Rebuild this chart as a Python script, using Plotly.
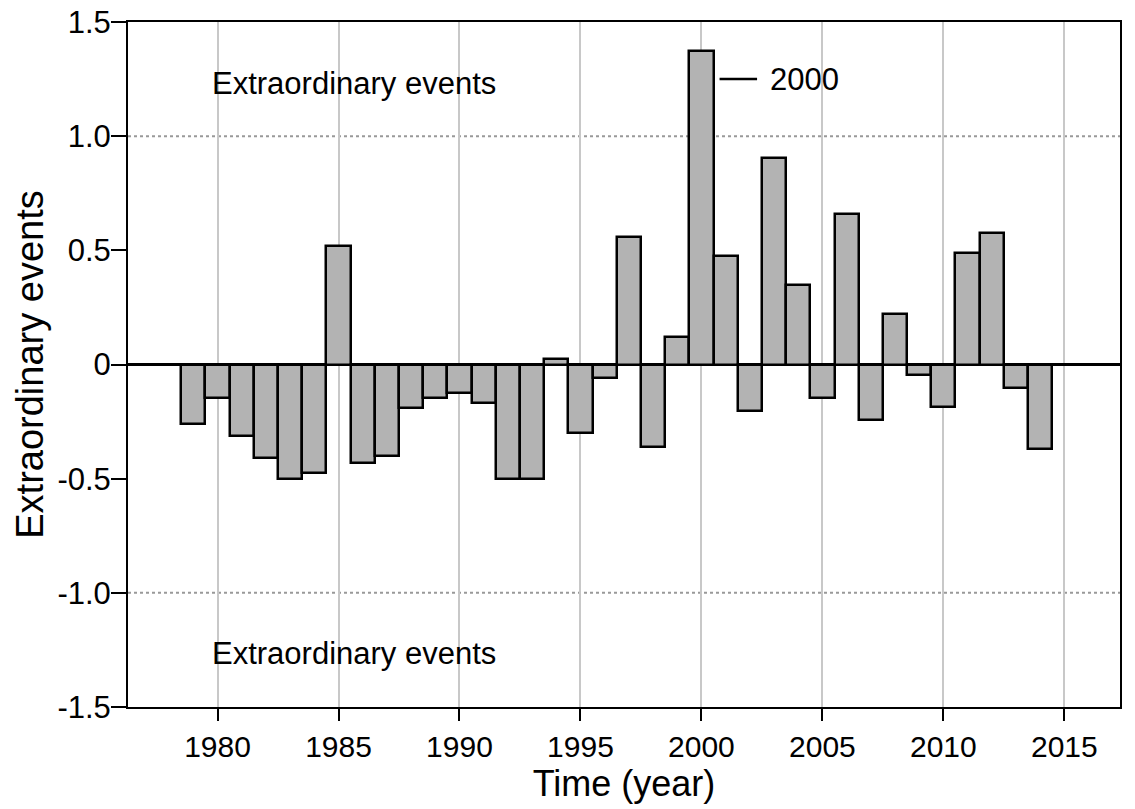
import plotly.graph_objects as go

years = list(range(1979, 2015))
values = [-0.26, -0.145, -0.315, -0.41, -0.50, -0.475, 0.52, -0.43, -0.40, -0.19,
          -0.145, -0.125, -0.17, -0.50, -0.50, 0.025, -0.30, -0.06, 0.56, -0.36,
          0.12, 1.375, 0.475, -0.205, 0.905, 0.35, -0.145, 0.66, -0.245, 0.22,
          -0.045, -0.185, 0.49, 0.575, -0.105, -0.37]

x_ticks = [1980, 1985, 1990, 1995, 2000, 2005, 2010, 2015]
y_tickvals = [1.5, 1.0, 0.5, 0, -0.5, -1.0, -1.5]
y_ticktext = ["1.5", "1.0", "0.5", "0", "-0.5", "-1.0", "-1.5"]
thresholds = [1.0, -1.0]
label_text = "Extraordinary events"
peak_year = 2000

FONT = "Liberation Sans, Arial, sans-serif"

fig = go.Figure()
fig.add_trace(go.Bar(
    x=years, y=values, width=1.0,
    marker=dict(color="#b3b3b3", line=dict(color="black", width=2.5)),
    showlegend=False,
))

for t in thresholds:
    fig.add_shape(type="line", xref="paper", yref="y", x0=0, x1=1, y0=t, y1=t,
                  line=dict(color="#999999", width=2, dash="dot"), layer="below")

label_y = 1.25
fig.add_shape(type="line", xref="x", yref="y", x0=peak_year + 0.75, x1=peak_year + 2.3,
              y0=label_y, y1=label_y, line=dict(color="black", width=2.5))
fig.add_annotation(x=peak_year + 2.75, y=label_y, text=str(peak_year), showarrow=False,
                   xanchor="left", yanchor="middle",
                   font=dict(family=FONT, size=31, color="black"))

fig.add_annotation(x=1979.7, y=1.232, text=label_text, showarrow=False,
                   xanchor="left", yanchor="middle",
                   font=dict(family=FONT, size=31, color="black"))
fig.add_annotation(x=1979.7, y=-1.265, text=label_text, showarrow=False,
                   xanchor="left", yanchor="middle",
                   font=dict(family=FONT, size=31, color="black"))

fig.update_layout(
    width=1135, height=809,
    margin=dict(l=128, r=15, t=22, b=102),
    paper_bgcolor="white", plot_bgcolor="white",
    font=dict(family=FONT, size=30, color="black"),
    bargap=0,
)
fig.update_xaxes(
    range=[1976.3, 2017.3], automargin=False,
    tickvals=x_ticks, ticktext=[str(v) for v in x_ticks],
    showgrid=True, gridcolor="#c8c8c8", gridwidth=2,
    showline=True, linecolor="black", linewidth=2, mirror=True,
    ticks="outside", ticklen=12, tickwidth=2, tickcolor="black",
    tickfont=dict(family=FONT, size=30),
    title=dict(text="Time (year)", font=dict(family=FONT, size=36), standoff=4),
    zeroline=False,
)
fig.update_yaxes(
    range=[-1.5, 1.5], automargin=False,
    tickvals=y_tickvals, ticktext=y_ticktext,
    showgrid=False,
    showline=True, linecolor="black", linewidth=2, mirror=True,
    ticks="outside", ticklen=15, tickwidth=2, tickcolor="black",
    ticklabelstandoff=-6,
    tickfont=dict(family=FONT, size=31),
    zeroline=True, zerolinecolor="black", zerolinewidth=2.5,
    title=dict(text="Extraordinary events", font=dict(family=FONT, size=38), standoff=2),
)

fig.write_html("out.html", config={"displayModeBar": False})
with open("out.html", "r", encoding="utf-8") as f:
    html = f.read()
html = html.replace("<body>", '<body style="margin:0;padding:0;">', 1)
with open("out.html", "w", encoding="utf-8") as f:
    f.write(html)
